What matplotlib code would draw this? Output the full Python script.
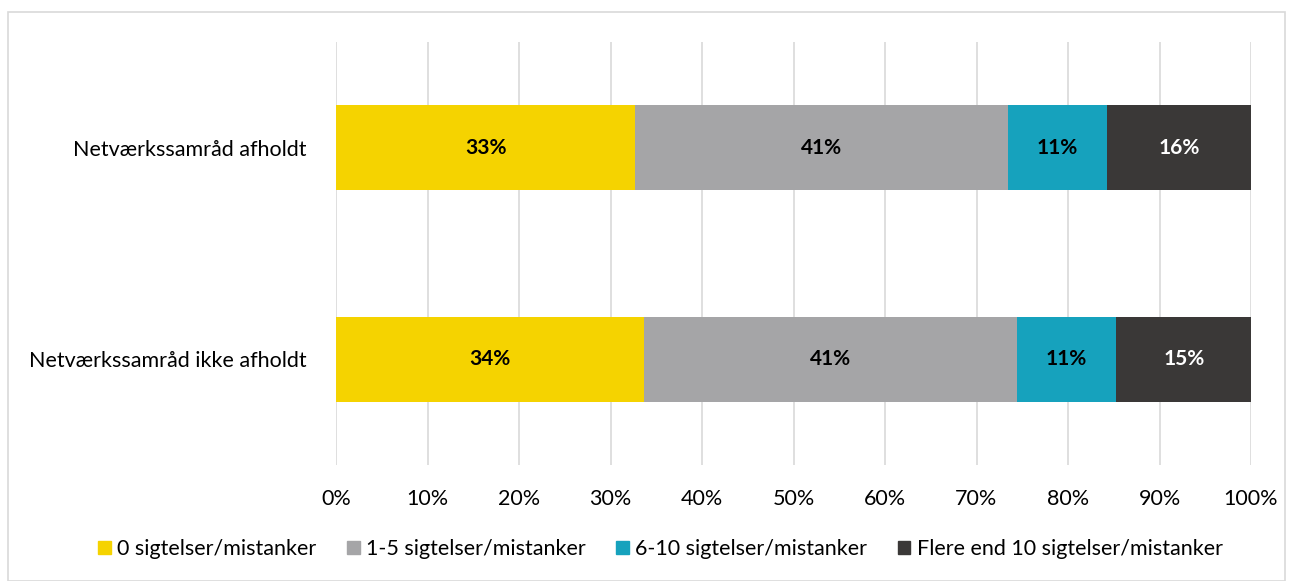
import matplotlib
matplotlib.use("Agg")
import matplotlib.pyplot as plt
from matplotlib.patches import Rectangle, Patch
import numpy as np

plt.rcParams['font.family'] = ['Lato', 'DejaVu Sans']

categories = ["Netværkssamråd afholdt", "Netværkssamråd ikke afholdt"]
series_names = ["0 sigtelser/mistanker", "1-5 sigtelser/mistanker",
                "6-10 sigtelser/mistanker", "Flere end 10 sigtelser/mistanker"]
values = [
    [32.7, 33.7],   # 0
    [40.7, 40.7],   # 1-5
    [10.9, 10.9],   # 6-10
    [15.7, 14.7],   # >10
]
labels = [
    ["33%", "34%"],
    ["41%", "41%"],
    ["11%", "11%"],
    ["16%", "15%"],
]
colors = ["#F5D300", "#A5A5A7", "#16A2BD", "#3A3837"]
text_colors = ["black", "black", "black", "white"]

fig = plt.figure(figsize=(12.95, 5.81), dpi=100)
ax = fig.add_axes([336/1295, 1-465/581, (1251-336)/1295, (465-42)/581])

y = np.arange(len(categories))
left = np.zeros(len(categories))
for i, (vals, c) in enumerate(zip(values, colors)):
    vals = np.array(vals)
    ax.barh(y, vals, left=left, height=0.4, color=c, label=series_names[i], zorder=3)
    for j in range(len(categories)):
        ax.text(left[j] + vals[j]/2, y[j], labels[i][j], ha='center', va='center',
                fontsize=15, fontweight='bold', color=text_colors[i], zorder=4)
    left += vals

ax.set_xlim(0, 100)
ax.set_ylim(1.5, -0.5)
ax.set_xticks(np.arange(0, 101, 10))
ax.set_xticklabels([f"{v}%" for v in range(0, 101, 10)], fontsize=15.5)
ax.set_yticks(y)
ax.set_yticklabels(categories, fontsize=15.5)
ax.grid(axis='x', color='#D9D9D9', linewidth=1.2, zorder=0)
for s in ax.spines.values():
    s.set_visible(False)
ax.tick_params(axis='both', length=0)
ax.tick_params(axis='x', pad=17)
ax.tick_params(axis='y', pad=21)

handles = [Patch(color=c) for c in colors]
fig.legend(handles, series_names, loc='center', bbox_to_anchor=(0.51, 1-549/581),
           ncol=4, frameon=False, fontsize=15.5, handlelength=0.6, handleheight=0.6,
           handletextpad=0.3, columnspacing=1.4)

fig.patches.append(Rectangle((8/1295, 0), (1285-8)/1295, 1-12/581, transform=fig.transFigure,
                             fill=False, edgecolor='#D9D9D9', linewidth=1.2))

fig.savefig("out.png", dpi=100)
